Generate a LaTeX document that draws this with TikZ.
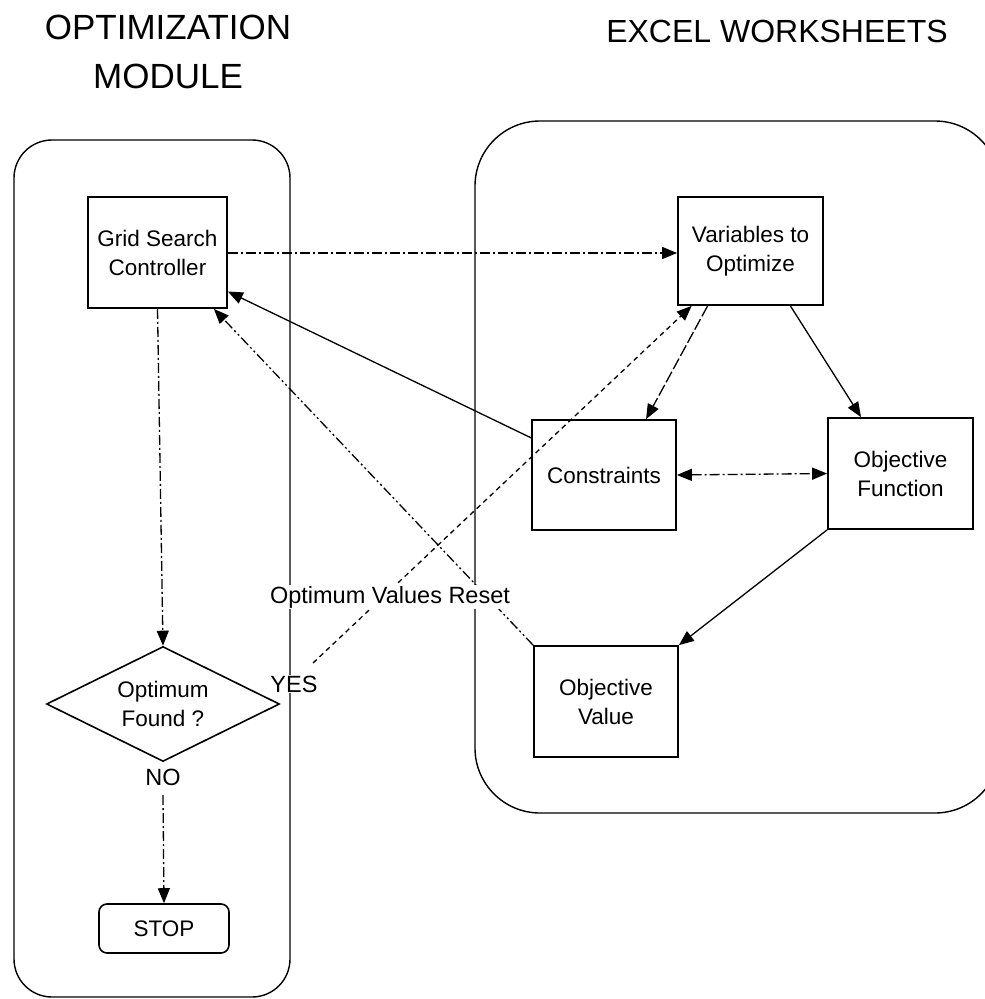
\documentclass[tikz,border=0pt]{standalone}
\usepackage{fontspec}
\setmainfont{Liberation Sans}
\usetikzlibrary{arrows.meta,shapes.geometric,calc}
\tikzset{
  box/.style={draw, line width=1.7pt, minimum width=144pt, minimum height=110pt, inner sep=0pt, align=center, font=\fontsize{22.5}{29}\selectfont},
  container/.style={draw, line width=1.4pt},
  tip/.style={Triangle[length=15pt,width=12pt]},
  conn/.style={line width=1.3pt, -{Triangle[length=15pt,width=12pt]}},
  dashdot/.style={dash pattern=on 10pt off 3pt on 2pt off 3pt},
  dashdotdot/.style={dash pattern=on 10pt off 3pt on 2pt off 3pt on 2pt off 3pt},
  shortdash/.style={dash pattern=on 5pt off 4pt},
  longdash/.style={dash pattern=on 12pt off 3pt},
  lbl/.style={font=\fontsize{23.5}{28}\selectfont, fill=white, inner sep=1pt},
  title/.style={font=\fontsize{35}{49}\selectfont, align=center}
}
\begin{document}
\begin{tikzpicture}[x=1pt,y=-1pt]
\useasboundingbox (0,0) rectangle (985,999);
\clip (0,0) rectangle (985,999);
\fill[white] (0,0) rectangle (985,999);

% titles
\node[title] (t1) at (168,52) {OPTIMIZATION\\MODULE};
\node[title, font=\fontsize{32}{40}\selectfont] (t2) at (777,31) {EXCEL WORKSHEETS};

% containers
\draw[container, rounded corners=38pt] (14,140) rectangle (290,997);
\draw[container, rounded corners=65pt] (475,121) rectangle (1000,813);

% nodes
\node[box, minimum width=139pt, minimum height=111pt] (grid) at (157.5,252.5) {Grid Search\\Controller};
\node[box, minimum width=145pt, minimum height=108pt] (var) at (750.5,251) {Variables to\\Optimize};
\node[box] (cons) at (604,475) {Constraints};
\node[box, minimum width=145pt, minimum height=111pt] (of) at (900.5,473.5) {Objective\\Function};
\node[box, minimum height=111pt] (ov) at (606,701.5) {Objective\\Value};
\node[draw, shape=diamond, aspect=2, line width=1.6pt, inner sep=0pt, minimum width=233pt, minimum height=115pt, align=center, font=\fontsize{22.5}{29}\selectfont] (dia) at (163,704) {Optimum\\Found ?};
\node[draw, line width=1.6pt, rounded corners=8pt, minimum width=130pt, minimum height=49pt, inner sep=0pt, font=\fontsize{22.5}{29}\selectfont] (stop) at (164,928.5) {STOP};

% connectors
\draw[conn, dashdot] (grid.east |- 0,253) -- (var.west |- 0,253);
\draw[conn] (cons.153) -- (grid.-29);
\draw[conn, dashdotdot] (ov.north west) -- (grid.-45);
\draw[conn, dashdot] (grid.south) -- (dia.north);
\draw[conn, longdash] (var.232) -- (cons.53);
\draw[conn] (var.-54) -- (of.125);
\draw[line width=1.3pt, dashdot, {Triangle[length=15pt,width=12pt]}-{Triangle[length=15pt,width=12pt]}] (cons.east) -- (of.west);
\draw[conn] (of.south west) -- (ov.north east);

% YES / NO branches
\coordinate (yesstart) at (313,663);
\coordinate (nostart) at (163,795);
\draw[conn, shortdash] (yesstart) -- (var.223);
\draw[conn, dashdot] (nostart) -- (stop.north);

% labels
\node[lbl] (reset) at (390,597) {Optimum Values Reset};
\node[lbl] (yes) at (294,684) {YES};
\node[lbl] (no) at (163,777) {NO};
\end{tikzpicture}
\end{document}
